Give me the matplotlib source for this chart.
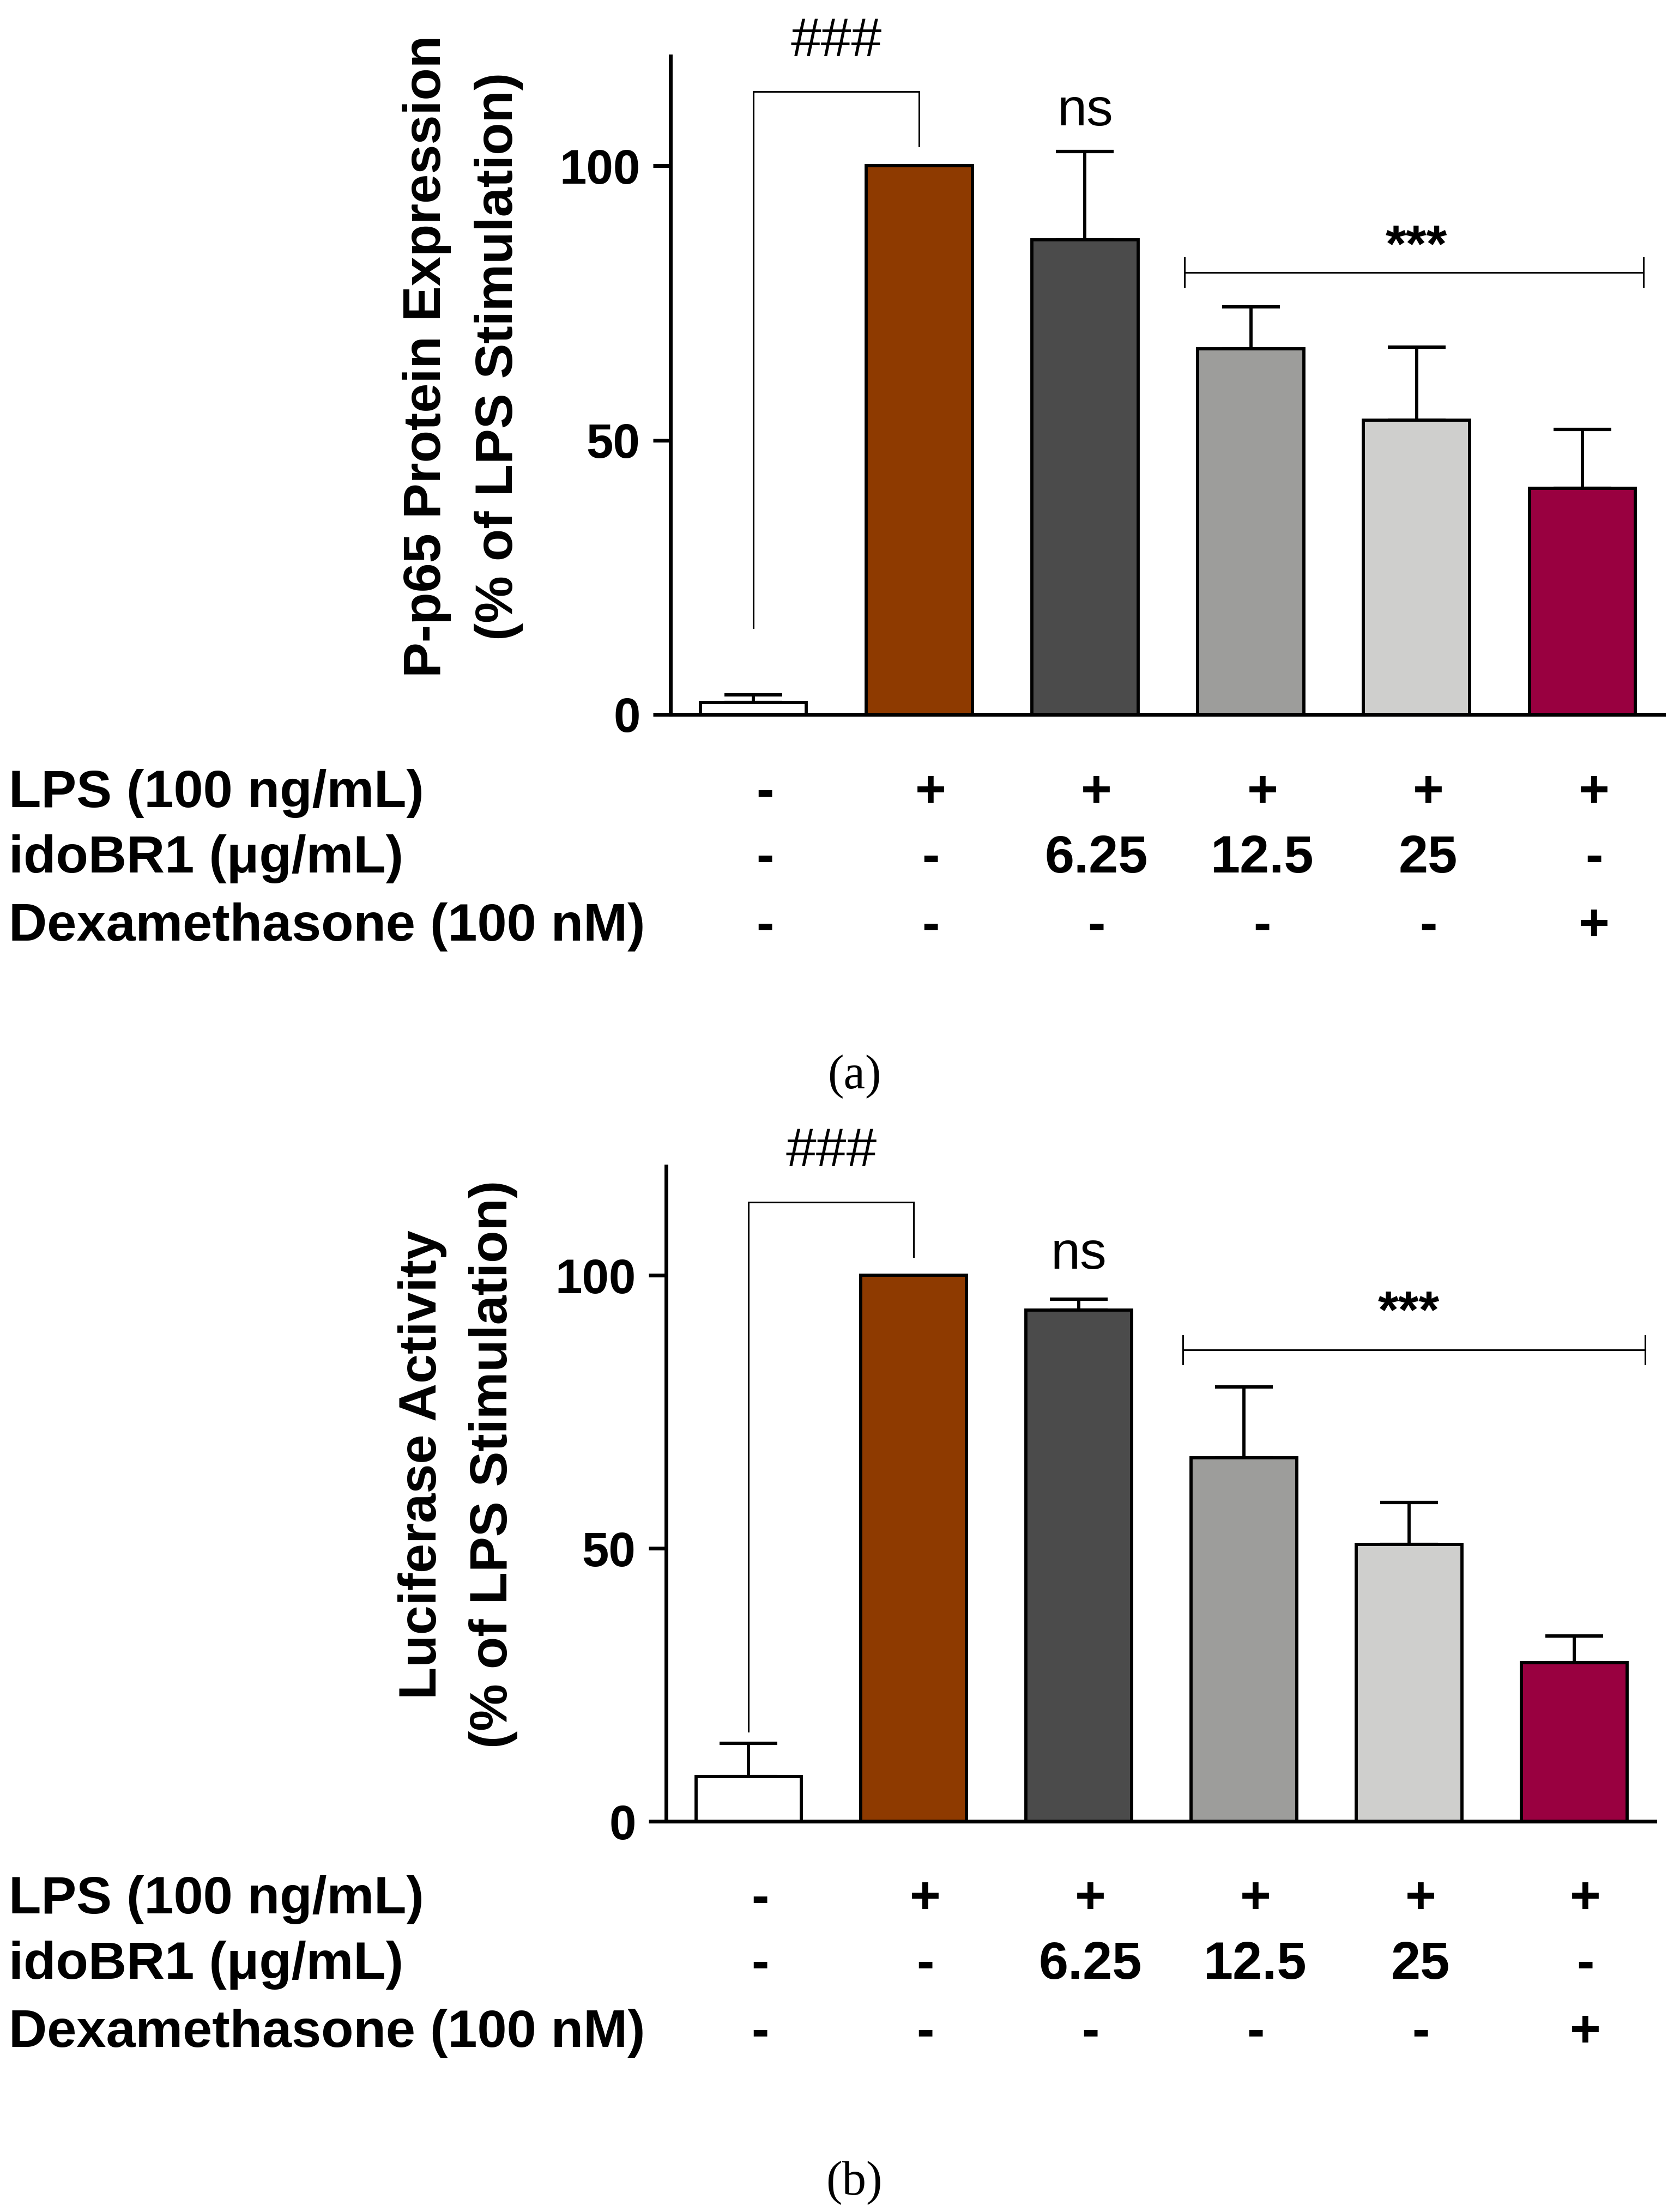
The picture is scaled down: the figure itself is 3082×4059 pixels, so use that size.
import matplotlib
matplotlib.use("Agg")
import matplotlib.pyplot as plt
import matplotlib.transforms as mtransforms
import numpy as np

plt.rcParams['font.family'] = ['Liberation Sans', 'DejaVu Sans']

# ---------------- data ----------------
groups = ["Control", "LPS", "idoBR1 6.25", "idoBR1 12.5", "idoBR1 25", "Dexamethasone"]
p65_mean = [2.2, 100.0, 86.5, 66.7, 53.6, 41.2]
p65_sem = [1.4, 0.0, 16.1, 7.6, 13.4, 10.8]
luc_mean = [8.2, 100.0, 93.6, 66.6, 50.7, 29.1]
luc_sem = [6.1, 0.0, 2.0, 13.0, 7.7, 4.8]
bar_colors = ["#FFFFFF", "#8E3A00", "#4B4B4B", "#9D9D9B", "#CFCFCD", "#990040"]
yticks = [0, 50, 100]

row_labels = ["LPS (100 ng/mL)", "idoBR1 (\u03bcg/mL)", "Dexamethasone (100 nM)"]
row_lps = ["-", "+", "+", "+", "+", "+"]
row_ido = ["-", "-", "6.25", "12.5", "25", "-"]
row_dex = ["-", "-", "-", "-", "-", "+"]

ylabel_a = ["P-p65 Protein Expression", "(% of LPS Stimulation)"]
ylabel_b = ["Luciferase Activity", "(% of LPS Stimulation)"]

# ---------------- figure ----------------
W, H = 3082, 4059
DPI = 100
fig = plt.figure(figsize=(W / DPI, H / DPI), dpi=DPI)
fig.patch.set_facecolor("white")


def fx(px):
    return px / W


def fy(py):
    return 1 - py / H


def make_panel(left, right, bottom, top, means, sems, ylabel, ylab_x,
               ylab_cy, row_base, bracket, star_line, ns_y, star_y, caption, cap_y):
    ax = fig.add_axes([fx(left), fy(bottom), fx(right - left), (bottom - top) / H])
    x = np.arange(len(means))
    ax.bar(x, means, width=0.64, color=bar_colors, edgecolor="black",
           linewidth=4.2, zorder=3)
    sems_arr = np.array(sems)
    mask = sems_arr > 0
    ax.errorbar(x[mask], np.array(means)[mask],
                yerr=[np.zeros(mask.sum()), sems_arr[mask]],
                fmt="none", ecolor="black", elinewidth=4.2, capsize=38,
                capthick=4.5, zorder=2)
    ax.set_xlim(-0.5, 5.49)
    ax.set_ylim(0, 120)
    ax.set_yticks(yticks)
    ax.set_xticks([])
    for s in ["top", "right"]:
        ax.spines[s].set_visible(False)
    for s in ["left", "bottom"]:
        ax.spines[s].set_linewidth(5)
    ax.tick_params(axis="y", direction="out", length=23, width=5, pad=17,
                   labelsize=64)
    for lab in ax.get_yticklabels():
        lab.set_fontweight("bold")

    # ### bracket
    bl, bt, br = bracket
    ax.plot([0, 0, 1, 1], [bl, bt, bt, br], color="black",
            lw=2.2, clip_on=False, solid_joinstyle="miter")
    ax.text(0.5, 120.0, "###", ha="center", va="baseline", fontsize=72)
    # ns
    ax.text(2, ns_y, "ns", ha="center", va="baseline", fontsize=70)
    # *** line
    x0, x1, yl = star_line
    ax.plot([x0, x1], [yl, yl], color="black", lw=2.2, clip_on=False)
    ax.plot([x0, x0], [yl - 2.6, yl + 2.6], color="black", lw=2.2, clip_on=False)
    ax.plot([x1, x1], [yl - 2.6, yl + 2.6], color="black", lw=2.2, clip_on=False)
    ax.text(4, star_y, "***", ha="center", va="baseline", fontsize=70,
            fontweight="bold")

    # y label (two lines)
    for txt, bx in zip(ylabel, ylab_x):
        fig.text(fx(bx), fy(ylab_cy), txt, rotation=90, rotation_mode="anchor",
                 ha="center", va="baseline", fontsize=70, fontweight="bold")

    # treatment table
    trans = mtransforms.blended_transform_factory(ax.transData, fig.transFigure)
    for lab, vals, by in zip(row_labels, [row_lps, row_ido, row_dex], row_base):
        fig.text(fx(16), fy(by), lab, ha="left", va="baseline", fontsize=70,
                 fontweight="bold")
        for i, v in enumerate(vals):
            ax.text(i + 0.07, fy(by), v, transform=trans, ha="center",
                    va="baseline", fontsize=70, fontweight="bold")

    fig.text(fx(1567), fy(cap_y), caption, ha="center", va="center",
             fontsize=64, family=["Liberation Serif", "DejaVu Serif"])
    return ax


make_panel(1230, 3052, 1311, 103, p65_mean, p65_sem, ylabel_a, [808, 940], 654,
           [1481, 1601, 1726], (15.8, 113.5, 103.6), (2.6, 5.37, 80.6),
           107.4, 82.5, "(a)", 1976)
make_panel(1222, 3036, 3342, 2140, luc_mean, luc_sem, ylabel_b, [800, 930], 2687,
           [3511, 3631, 3756], (16.5, 113.4, 103.4), (2.63, 5.43, 86.4),
           101.2, 90.4, "(b)", 4006)

fig.savefig("out.png", dpi=DPI, facecolor="white")
